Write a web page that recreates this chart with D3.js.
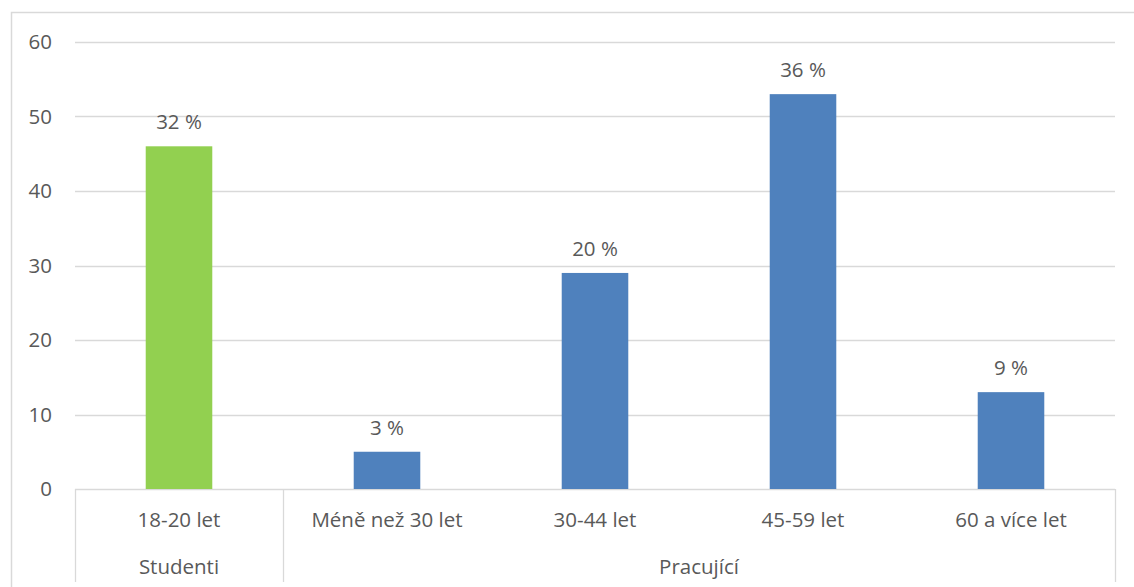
<!DOCTYPE html>
<html>
<head>
<meta charset="utf-8">
<script src="https://cdn.jsdelivr.net/npm/d3@7"></script>
<style>
  body { margin: 0; background: #fff; }
  text { font-family: "Open Sans", "Liberation Sans", sans-serif; fill: #595959; }
</style>
</head>
<body>
<div class="chart"></div>
<script>
// Data
const categories = ["18-20 let", "Méně než 30 let", "30-44 let", "45-59 let", "60 a více let"];
const groups = ["Studenti", "Pracující", "Pracující", "Pracující", "Pracující"];
const values = [46, 5, 29, 53, 13];
const labels = ["32 %", "3 %", "20 %", "36 %", "9 %"];
const yTicks = [0, 10, 20, 30, 40, 50, 60];

const W = 1134, H = 587;
const margin = {top: 42, left: 75, right: 19, bottom: 98};
const width = W - margin.left - margin.right;
const height = H - margin.top - margin.bottom;
const fs = 20.5;

const svg = d3.select(".chart").append("svg")
    .attr("width", W)
    .attr("height", H);

// Outer chart border
svg.append("rect")
    .attr("x", 11.5).attr("y", 12.5)
    .attr("width", W).attr("height", H)
    .attr("fill", "none")
    .attr("stroke", "#d9d9d9")
    .attr("stroke-width", 1.5);

const g = svg.append("g")
    .attr("transform", `translate(${margin.left},${margin.top})`);

const x = d3.scaleBand().domain(categories).range([0, width]).paddingInner(0.68).paddingOuter(0.34);
const y = d3.scaleLinear().domain([0, 60]).range([height, 0]);

// Gridlines
g.selectAll(".grid").data(yTicks).join("line")
    .attr("x1", 0).attr("x2", width)
    .attr("y1", d => Math.round(y(d)) + 0.5).attr("y2", d => Math.round(y(d)) + 0.5)
    .attr("stroke", "#d9d9d9").attr("stroke-width", 1.3);

// Y tick labels
g.selectAll(".ytick").data(yTicks).join("text")
    .attr("x", -23).attr("y", d => y(d))
    .attr("dy", "0.36em")
    .attr("text-anchor", "end")
    .attr("font-size", fs)
    .text(d => d);

// Bars
g.selectAll(".bar").data(values).join("rect")
    .attr("x", (d, i) => x(categories[i]))
    .attr("y", d => y(d))
    .attr("width", x.bandwidth())
    .attr("height", d => height - y(d))
    .attr("fill", (d, i) => i === 0 ? "#92D050" : "#4F81BD");

// Data labels
g.selectAll(".lbl").data(values).join("text")
    .attr("x", (d, i) => x(categories[i]) + x.bandwidth() / 2)
    .attr("y", d => y(d) - 17)
    .attr("text-anchor", "middle")
    .attr("font-size", fs)
    .text((d, i) => labels[i]);

// Multi-level category axis
const step = x.step();
const axisH = 93;
[0, step, width].forEach(sx => {
    g.append("line")
        .attr("x1", sx + 0.5).attr("x2", sx + 0.5)
        .attr("y1", height).attr("y2", height + axisH)
        .attr("stroke", "#d9d9d9").attr("stroke-width", 1.3);
});

g.selectAll(".cat").data(categories).join("text")
    .attr("x", d => x(d) + x.bandwidth() / 2)
    .attr("y", height + 38)
    .attr("text-anchor", "middle")
    .attr("font-size", fs)
    .text(d => d);

const groupNames = Array.from(new Set(groups));
groupNames.forEach(name => {
    const first = groups.indexOf(name);
    const last = groups.lastIndexOf(name);
    const cx = (first * step + (last + 1) * step) / 2;
    g.append("text")
        .attr("x", cx)
        .attr("y", height + 85)
        .attr("text-anchor", "middle")
        .attr("font-size", fs)
        .text(name);
});
</script>
</body>
</html>
